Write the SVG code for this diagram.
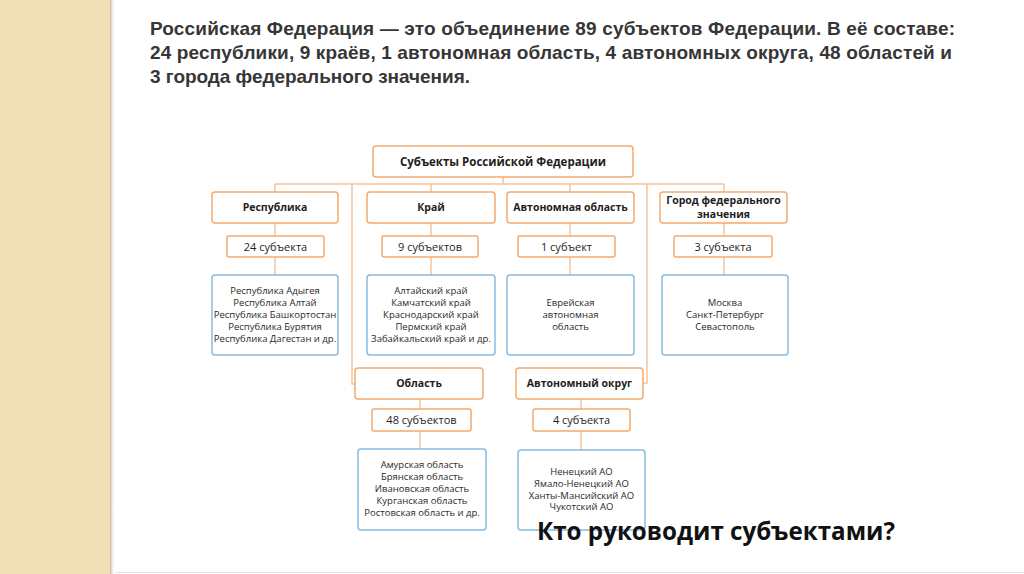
<svg xmlns="http://www.w3.org/2000/svg" width="1024" height="574" viewBox="0 0 1024 574">
<defs>
<linearGradient id="shadow" x1="0" y1="0" x2="1" y2="0">
<stop offset="0" stop-color="#c8b38c"/>
<stop offset="1" stop-color="#ffffff" stop-opacity="0"/>
</linearGradient>
<style>
.hdr{font-family:"Liberation Sans",Arial,sans-serif;font-weight:bold;font-size:19px;fill:#363636}
.o{fill:#ffffff;stroke:#f2aa6e;stroke-width:1.5}
.b{fill:#ffffff;stroke:#88bbe0;stroke-width:1.5}
.t{font-family:"Open Sans",sans-serif;font-weight:bold;font-size:10.5px;fill:#1e1e1e;text-anchor:middle}
.c{font-family:"Open Sans",sans-serif;font-size:11px;fill:#1e1e1e;text-anchor:middle}
.l{font-family:"Open Sans",sans-serif;font-size:9.5px;fill:#2a2a2a;text-anchor:middle}
.con{fill:none;stroke:#f5c49b;stroke-width:1.5}
.q{font-family:"Open Sans",sans-serif;font-weight:bold;font-size:25px;fill:#111111}
</style>
</defs>
<rect x="0" y="0" width="1024" height="574" fill="#ffffff"/>
<rect x="0" y="0" width="110" height="574" fill="#f1dfb6"/>
<rect x="110" y="0" width="5" height="574" fill="url(#shadow)"/>
<line x1="115" y1="572.5" x2="1024" y2="572.5" stroke="#e4e4e4" stroke-width="1"/>

<g id="header">
<text class="hdr" x="150" y="35" textLength="805">Российская Федерация — это объединение 89 субъектов Федерации. В её составе:</text>
<text class="hdr" x="150" y="59" textLength="802">24 республики, 9 краёв, 1 автономная область, 4 автономных округа, 48 областей и</text>
<text class="hdr" x="150" y="83" textLength="320">3 города федерального значения.</text>
</g>

<g id="connectors">
<path class="con" d="M503 177V184M275 184H724M275 184V192M431 184V192M570 184V192M724 184V192"/>
<path class="con" d="M352 184V384H355M647 184V383H643"/>
<path class="con" d="M275 223V236M275 257V275M431 223V236M431 257V275M570 223V236M570 257V275M724 223V236M724 257V275"/>
<path class="con" d="M420 399V409M420 431V449M581 399V409M581 431V450"/>
</g>

<g id="root">
<rect class="o" x="373" y="146" width="260" height="31" rx="3"/>
<text class="t" x="503" y="165.5" style="font-size:11.5px">Субъекты Российской Федерации</text>
</g>

<g id="respublika">
<rect class="o" x="212" y="192" width="126" height="31" rx="3"/>
<text class="t" x="275" y="211">Республика</text>
</g>
<g id="respublika-count">
<rect class="o" x="227" y="236" width="97" height="21" rx="2"/>
<text class="c" x="275.5" y="250.5">24 субъекта</text>
</g>
<g id="respublika-list">
<rect class="b" x="212" y="275" width="126" height="80" rx="3"/>
<text class="l" x="275" y="294">Республика Адыгея</text>
<text class="l" x="275" y="306">Республика Алтай</text>
<text class="l" x="275" y="318">Республика Башкортостан</text>
<text class="l" x="275" y="330">Республика Бурятия</text>
<text class="l" x="275" y="342">Республика Дагестан и др.</text>
</g>

<g id="krai">
<rect class="o" x="367" y="192" width="128" height="31" rx="3"/>
<text class="t" x="431" y="211">Край</text>
</g>
<g id="krai-count">
<rect class="o" x="382" y="236" width="96" height="21" rx="2"/>
<text class="c" x="430" y="250.5">9 субъектов</text>
</g>
<g id="krai-list">
<rect class="b" x="367" y="275" width="128" height="80" rx="3"/>
<text class="l" x="431" y="294">Алтайский край</text>
<text class="l" x="431" y="306">Камчатский край</text>
<text class="l" x="431" y="318">Краснодарский край</text>
<text class="l" x="431" y="330">Пермский край</text>
<text class="l" x="431" y="342">Забайкальский край и др.</text>
</g>

<g id="avt-oblast">
<rect class="o" x="507" y="192" width="127" height="31" rx="3"/>
<text class="t" x="570.5" y="211">Автономная область</text>
</g>
<g id="avt-oblast-count">
<rect class="o" x="518" y="236" width="97" height="21" rx="2"/>
<text class="c" x="566.5" y="250.5">1 субъект</text>
</g>
<g id="avt-oblast-list">
<rect class="b" x="507" y="275" width="127" height="80" rx="3"/>
<text class="l" x="570.5" y="306">Еврейская</text>
<text class="l" x="570.5" y="318">автономная</text>
<text class="l" x="570.5" y="330">область</text>
</g>

<g id="gorod">
<rect class="o" x="660" y="192" width="127" height="31" rx="3"/>
<text class="t" x="723.5" y="204">Город федерального</text>
<text class="t" x="723.5" y="218">значения</text>
</g>
<g id="gorod-count">
<rect class="o" x="674" y="236" width="98" height="21" rx="2"/>
<text class="c" x="723" y="250.5">3 субъекта</text>
</g>
<g id="gorod-list">
<rect class="b" x="662" y="275" width="126" height="80" rx="3"/>
<text class="l" x="725" y="306">Москва</text>
<text class="l" x="725" y="318">Санкт-Петербург</text>
<text class="l" x="725" y="330">Севастополь</text>
</g>

<g id="oblast">
<rect class="o" x="355" y="368" width="128" height="31" rx="3"/>
<text class="t" x="419" y="387">Область</text>
</g>
<g id="oblast-count">
<rect class="o" x="372" y="409" width="99" height="22" rx="2"/>
<text class="c" x="421.5" y="424">48 субъектов</text>
</g>
<g id="oblast-list">
<rect class="b" x="358" y="449" width="128" height="81" rx="3"/>
<text class="l" x="422" y="468">Амурская область</text>
<text class="l" x="422" y="480">Брянская область</text>
<text class="l" x="422" y="492">Ивановская область</text>
<text class="l" x="422" y="504">Курганская область</text>
<text class="l" x="422" y="516">Ростовская область и др.</text>
</g>

<g id="avt-okrug">
<rect class="o" x="516" y="368" width="127" height="31" rx="3"/>
<text class="t" x="579.5" y="387">Автономный округ</text>
</g>
<g id="avt-okrug-count">
<rect class="o" x="533" y="409" width="97" height="22" rx="2"/>
<text class="c" x="581.5" y="424">4 субъекта</text>
</g>
<g id="avt-okrug-list">
<rect class="b" x="518" y="450" width="127" height="80" rx="3"/>
<text class="l" x="581.5" y="475">Ненецкий АО</text>
<text class="l" x="581.5" y="487">Ямало-Ненецкий АО</text>
<text class="l" x="581.5" y="499">Ханты-Мансийский АО</text>
<text class="l" x="581.5" y="510">Чукотский АО</text>
</g>

<g id="question">
<text class="q" x="537" y="540" textLength="358" lengthAdjust="spacingAndGlyphs">Кто руководит субъектами?</text>
</g>
</svg>
